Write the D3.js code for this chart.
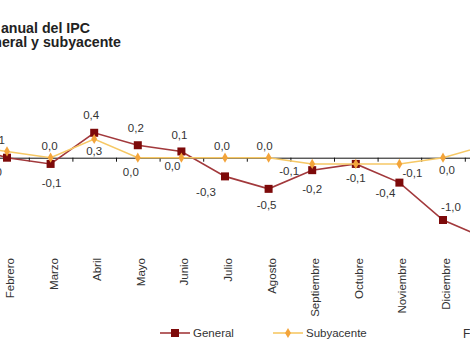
<!DOCTYPE html>
<html>
<head>
<meta charset="utf-8">
<script src="https://cdn.jsdelivr.net/npm/d3@7"></script>
<style>
  html, body { margin: 0; padding: 0; background: #fff; }
  svg { display: block; font-family: "Liberation Sans", Arial, sans-serif; }
</style>
</head>
<body>
<svg id="chart" width="470" height="340"></svg>
<script>
// Tasa de variación anual del IPC, enero 2014 – enero 2015
const months = ["Enero", "Febrero", "Marzo", "Abril", "Mayo", "Junio", "Julio",
                "Agosto", "Septiembre", "Octubre", "Noviembre", "Diciembre", "Enero"];
const general    = [0.2, 0.0, -0.1, 0.4, 0.2, 0.1, -0.3, -0.5, -0.2, -0.1, -0.4, -1.0, -1.3];
const subyacente = [0.2, 0.1,  0.0, 0.3, 0.0, 0.0,  0.0,  0.0, -0.1, -0.1, -0.1,  0.0,  0.2];
const titleLines = ["Tasa de variación anual del IPC", "General y subyacente"];
const seriesNames = ["General", "Subyacente"];
const sourceText = "Fuente: INE";

// label offsets [dx, dy] for each point's value label; null where the
// label would sit on top of the other series' identical label
const generalLabelOffset = [[0,-14],[-13,14],[1,19],[-3,-18],[-2,-17],[-2,-16],[-19,16],
                            [-2,16],[0,19],[0,14],[-14,10],[8,-13],[0,-14]];
const subLabelOffset     = [[0,13],[-10,-11],[-1,-12],[0,12],[-7,14],[-9,8],[-3,-12],
                            [-4,-12],[-23,7],null,[13,9],[4,12],[0,-12]];

const fmt = v => d3.format(".1f")(v).replace(".", ",").replace("−", "-");

const svg = d3.select("#chart");

const x = d3.scaleLinear().domain([0, months.length - 1]).range([-36.6, 486.6]);
const y = d3.scaleLinear().domain([-1.5, 0.5]).range([251.15, 126.55]);

// title
const title = svg.append("g")
  .attr("font-weight", "bold").attr("font-size", 14.2).attr("fill", "#222")
  .attr("text-anchor", "end");
title.append("text").attr("x", 90).attr("y", 33).text(titleLines[0]);
title.append("text").attr("x", 121).attr("y", 47).text(titleLines[1]);

// zero axis with ticks between months
const axis = d3.axisBottom(x)
  .tickValues(d3.range(0.5, months.length - 1, 1))
  .tickSize(4).tickSizeOuter(0).tickFormat("");
const gAxis = svg.append("g").attr("transform", `translate(0,${y(0)})`).call(axis);
gAxis.select(".domain").attr("stroke", "#111");
gAxis.selectAll(".tick line").attr("stroke", "#111");

// month labels, rotated
svg.append("g").selectAll("text").data(months).join("text")
  .attr("transform", (d, i) => `translate(${x(i) + 3},258) rotate(-90)`)
  .attr("text-anchor", "end").attr("dy", "0.35em")
  .attr("font-size", 11.5).attr("fill", "#333")
  .text(d => d);

const line = d3.line().x((d, i) => x(i)).y(d => y(d));

// general series
svg.append("path").datum(general)
  .attr("d", line).attr("fill", "none")
  .attr("stroke", "#a2393c").attr("stroke-width", 1.6);
svg.append("g").selectAll("rect").data(general).join("rect")
  .attr("x", (d, i) => x(i) - 4).attr("y", d => y(d) - 4)
  .attr("width", 8).attr("height", 8).attr("fill", "#7d0a0a");

// subyacente series
svg.append("path").datum(subyacente)
  .attr("d", line).attr("fill", "none")
  .attr("stroke", "#f6c865").attr("stroke-width", 1.6);
svg.append("g").selectAll("path.mk").data(subyacente).join("path")
  .attr("class", "mk")
  .attr("d", d3.symbol(d3.symbolDiamond, 30))
  .attr("transform", (d, i) => `translate(${x(i)},${y(d)})`)
  .attr("fill", "#f3a43a");

// value labels
const labels = svg.append("g").attr("font-size", 11.5).attr("fill", "#333")
  .attr("text-anchor", "middle").attr("dominant-baseline", "central");
labels.selectAll("text.g").data(general).join("text").attr("class", "g")
  .attr("x", (d, i) => x(i) + generalLabelOffset[i][0])
  .attr("y", (d, i) => y(d) + generalLabelOffset[i][1])
  .text(d => fmt(d));
const subLabelData = subyacente.map((v, i) => ({ v, i })).filter(d => subLabelOffset[d.i]);
labels.selectAll("text.s").data(subLabelData).join("text").attr("class", "s")
  .attr("x", d => x(d.i) + subLabelOffset[d.i][0])
  .attr("y", d => y(d.v) + subLabelOffset[d.i][1])
  .text(d => fmt(d.v));

// legend
const legend = svg.append("g").attr("font-size", 11.5).attr("fill", "#333");
const legendItems = [
  { name: seriesNames[0], x: 160, stroke: "#a2393c", marker: "rect", fill: "#7d0a0a" },
  { name: seriesNames[1], x: 273, stroke: "#f6c865", marker: "diamond", fill: "#f3a43a" }
];
legendItems.forEach(it => {
  const g = legend.append("g").attr("transform", `translate(${it.x},333)`);
  g.append("line").attr("x1", 0).attr("x2", 30).attr("stroke", it.stroke).attr("stroke-width", 1.6);
  if (it.marker === "rect") {
    g.append("rect").attr("x", 11).attr("y", -4).attr("width", 8).attr("height", 8).attr("fill", it.fill);
  } else {
    g.append("path").attr("d", d3.symbol(d3.symbolDiamond, 30)).attr("transform", "translate(15,0)").attr("fill", it.fill);
  }
  g.append("text").attr("x", 33).attr("dy", "0.35em").text(it.name);
});

// source
svg.append("text").attr("x", 463).attr("y", 338)
  .attr("font-size", 12).attr("fill", "#333").text(sourceText);
</script>
</body>
</html>
